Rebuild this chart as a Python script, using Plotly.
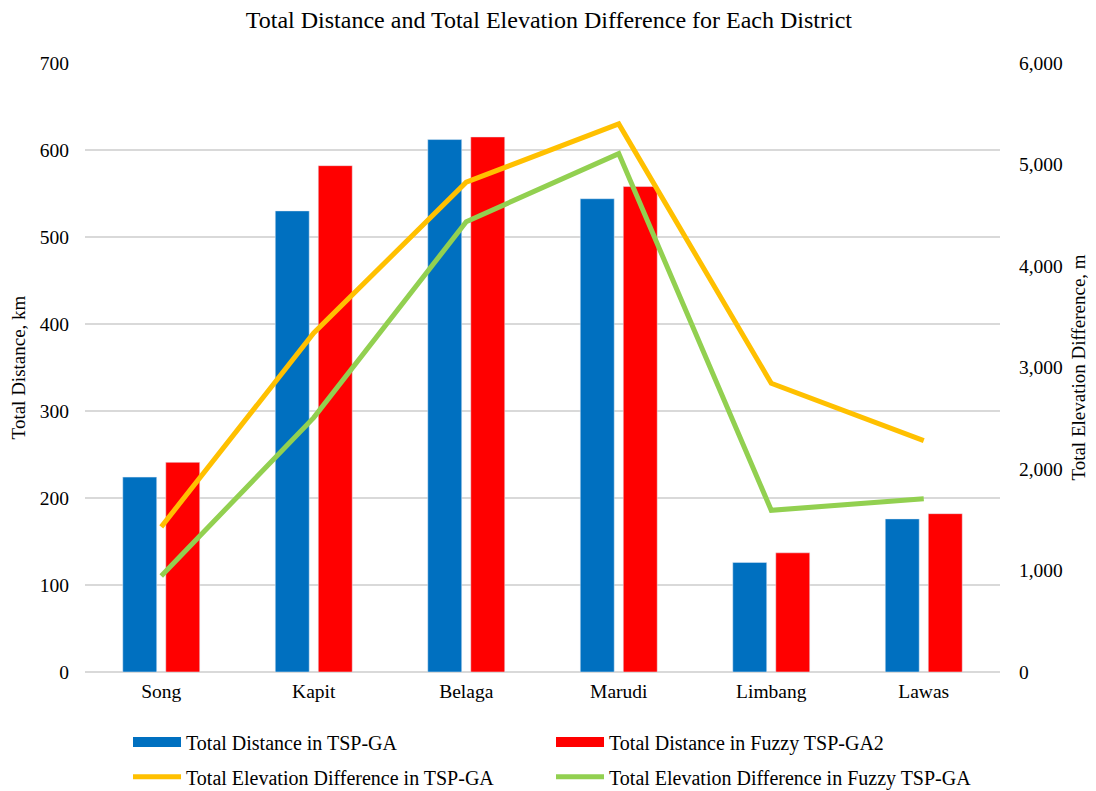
import plotly.graph_objs as go

districts = ['Song', 'Kapit', 'Belaga', 'Marudi', 'Limbang', 'Lawas']
dist_tsp_ga = [224, 530, 612, 544, 126, 176]
dist_fuzzy_ga2 = [241, 582, 615, 558, 137, 182]
elev_tsp_ga = [1430, 3340, 4825, 5400, 2845, 2280]
elev_fuzzy_ga = [946, 2506, 4436, 5107, 1593, 1707]

FONT = "Liberation Serif"
BLUE = '#0070c0'
RED = '#ff0000'
YELLOW = '#ffc000'
GREEN = '#92d050'

fig = go.Figure()

# bars (legend drawn by the proxy entries below so the swatch is a wide block)
fig.add_trace(go.Bar(x=districts, y=dist_tsp_ga, marker_color=BLUE,
                     name='Total Distance in TSP-GA', showlegend=False))
fig.add_trace(go.Bar(x=districts, y=dist_fuzzy_ga2, marker_color=RED,
                     name='Total Distance in Fuzzy TSP-GA2', showlegend=False))

fig.add_trace(go.Scatter(x=districts, y=elev_tsp_ga, mode='lines', yaxis='y2',
                         line=dict(color=YELLOW, width=5), showlegend=False))
fig.add_trace(go.Scatter(x=districts, y=elev_fuzzy_ga, mode='lines', yaxis='y2',
                         line=dict(color=GREEN, width=5), showlegend=False))

# legend entries: row 1 in 'legend', row 2 in 'legend2'
for name, color, w, lg in [('Total Distance in TSP-GA', BLUE, 12, 'legend'),
                           ('Total Distance in Fuzzy TSP-GA2', RED, 12, 'legend'),
                           ('Total Elevation Difference in TSP-GA', YELLOW, 5, 'legend2'),
                           ('Total Elevation Difference in Fuzzy TSP-GA', GREEN, 5, 'legend2')]:
    fig.add_trace(go.Scatter(x=[None], y=[None], mode='lines', name=name,
                             line=dict(color=color, width=w), legend=lg))

legend_common = dict(orientation='h', x=0.047, xanchor='left', yanchor='middle',
                     entrywidth=360, itemwidth=48, bgcolor='rgba(0,0,0,0)',
                     font=dict(family=FONT, size=20, color='black'))

# the page adds an 8px body margin, so margins are shifted by 8px
fig.update_layout(
    width=1096, height=791,
    margin=dict(l=77, r=104, t=55, b=127, autoexpand=False),
    plot_bgcolor='white',
    paper_bgcolor='white',
    font=dict(family=FONT, size=19.5, color='black'),
    title=dict(text='Total Distance and Total Elevation Difference for Each District',
               x=0.507, xref='paper', xanchor='center', y=0.985, yanchor='middle',
               font=dict(family=FONT, size=24, color='black')),
    barmode='group',
    bargap=0.436,
    bargroupgap=0.21,
    xaxis=dict(showgrid=False, showline=False, ticks='outside', ticklen=2,
               tickcolor='rgba(0,0,0,0)', automargin=False,
               tickfont=dict(family=FONT, size=19.5)),
    yaxis=dict(range=[0, 700], dtick=100, gridcolor='#d9d9d9', gridwidth=1.5,
               zeroline=True, zerolinecolor='#d9d9d9', zerolinewidth=1.5,
               ticks='outside', ticklen=11, tickcolor='rgba(0,0,0,0)',
               automargin=False, tickfont=dict(family=FONT, size=19.5),
               title=dict(text='Total Distance, km', standoff=12,
                          font=dict(family=FONT, size=19))),
    yaxis2=dict(range=[0, 6000], dtick=1000, overlaying='y', side='right',
                showgrid=False, zeroline=False, tickformat=',d',
                ticks='outside', ticklen=14, tickcolor='rgba(0,0,0,0)',
                automargin=False, tickfont=dict(family=FONT, size=19.5),
                title=dict(text='Total Elevation Difference, m', standoff=9,
                           font=dict(family=FONT, size=19))),
    legend=dict(legend_common, y=-0.115),
    legend2=dict(legend_common, y=-0.172),
)

fig.write_html("out.html")
